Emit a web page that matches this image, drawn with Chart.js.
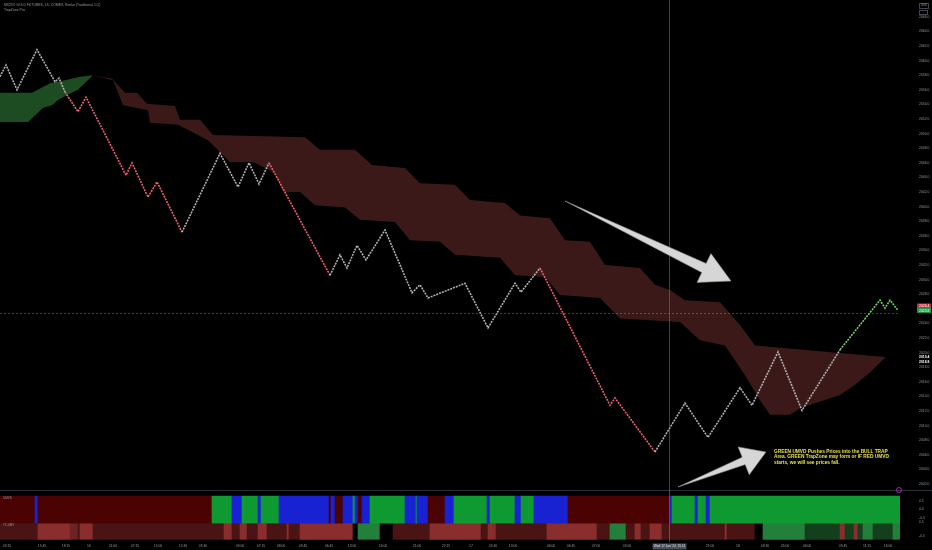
<!DOCTYPE html>
<html>
<head>
<meta charset="utf-8">
<script src="https://cdn.jsdelivr.net/npm/chart.js@4.4.1/dist/chart.umd.min.js"></script>
<style>
body{margin:0;background:#000;width:932px;height:550px;overflow:hidden;position:relative;font-family:"Liberation Sans",Arial,sans-serif}
canvas{position:absolute;left:0}
#main{top:0}
#strip{top:490px}
.t{position:absolute;color:#9598a1;font-size:3.4px;white-space:nowrap;line-height:4px}
.note{position:absolute;left:774px;top:448.5px;color:#e8e04a;font-size:4.8px;font-weight:bold;line-height:5.6px;white-space:nowrap}
</style>
</head>
<body>
<canvas id="main" width="932" height="490"></canvas>
<canvas id="strip" width="932" height="60"></canvas>
<div class="t" style="left:4px;top:3px">MICRO GOLD FUTURES, 1S, COMEX, Renko (Traditional, 0.2)</div>
<div class="t" style="left:4px;top:8px">TrapZone Pro</div>
<div class="t" style="left:919px;top:3px;border:1px solid #434651;padding:0 1px;font-size:2.8px;line-height:3.5px">USD</div>
<div class="t" style="left:919px;top:10px;border:1px solid #434651;width:7px;height:3px"></div>
<div class="t" style="left:3px;top:496px;font-size:3px">UMVD</div>
<div class="t" style="left:3px;top:523px;font-size:3px">TZ-UMV</div>
<div class="t" style="left:896px;top:487px;width:4px;height:4px;border:1px solid #9c27b0;border-radius:50%"></div>
<div class="note">GREEN UMVD Pushes Prices into the BULL TRAP<br>Area. GREEN TrapZone may form or IF RED UMVD<br>starts, we will see prices fall.</div>
<script>
// renko swing points (brick index, price)
var priceX = [0,6,17,37,55,59,65,78,86,126,132,148,157,182,220,238,249,259,269,330,340,347,357,366,385,412,420,428,465,488,515,521,540,610,615,655,685,708,740,752,778,802,840,880,885,890,898];
var priceY = [2057.8,2059.4,2056.0,2061.5,2057.1,2057.6,2055.7,2053.0,2055.0,2044.3,2046.0,2041.3,2043.4,2036.5,2047.3,2042.7,2046.0,2043.1,2046.0,2030.6,2033.4,2031.6,2034.7,2032.7,2036.8,2028.2,2029.3,2027.5,2029.5,2023.4,2029.5,2028.3,2031.6,2012.8,2013.8,2006.4,2013.1,2008.4,2015.2,2012.8,2020.1,2012.1,2020.4,2027.2,2026.1,2027.2,2025.8];
// colour of each leg: g gray, r red, l green
var priceTrend = ['g','g','g','g','g','g','r','r','r','r','r','r','r','g','g','g','g','g','r','g','g','g','g','g','g','g','g','g','g','g','g','g','r','r','r','g','g','g','g','g','g','g','l','l','l','l'];

// bull trap zone (green)
var greenUpX = [0,32,50,65,80,93];
var greenUpY = [2055.6,2055.6,2056.9,2057.3,2057.8,2058.0];
var greenLoX = [0,28,43,52,58,67,78,93];
var greenLoY = [2051.6,2051.6,2053.5,2053.9,2054.6,2055.3,2056.0,2058.0];

// bear trap zone (red)
var redUpX = [93,112,125,137,147,175,180,200,213,305,320,355,372,405,420,455,470,505,520,550,565,590,605,640,655,670,685,720,740,755,885];
var redUpY = [2058.0,2057.5,2055.6,2055.6,2054.1,2053.8,2051.9,2051.9,2049.8,2049.5,2047.8,2047.8,2045.7,2045.3,2043.2,2043.0,2040.9,2040.5,2038.8,2038.4,2035.4,2035.2,2032.0,2031.6,2029.3,2028.6,2027.2,2026.9,2023.8,2021.0,2019.4];
var redLoX = [93,113,123,148,150,178,208,230,253,275,283,300,315,345,360,395,410,440,455,500,515,545,560,600,620,680,700,725,745,760,770,790,800,840,855,870,885];
var redLoY = [2058.0,2057.3,2053.9,2053.2,2051.5,2051.2,2049.1,2046.1,2046.1,2044.6,2042.0,2042.0,2040.2,2039.9,2038.2,2037.9,2035.4,2035.2,2033.4,2033.0,2030.6,2030.4,2027.9,2027.5,2024.7,2024.2,2021.7,2021.0,2016.9,2013.5,2011.5,2011.5,2012.4,2014.2,2015.6,2017.3,2019.3];

var priceTicks = [2066,2064,2062,2060,2058,2056,2054,2052,2050,2048,2046,2044,2042,2040,2038,2036,2034,2032,2030,2028,2026,2024,2022,2020,2018,2016,2014,2012,2010,2008,2006,2004,2002];
var lastPrice = 2025.8;
var prevTag = 2026.4;
var zoneTags = [2019.4, 2018.8];
var crossX = 669;
var crossPrice = 2025.4;

// UMVD state strip: r red, g green, b blue
var umvdBreaks = [0,35,38,212,232,242,258,261,279,329,331,335,343,353,355,358,362,370,405,416,417,428,445,454,487,490,515,521,534,568,670,672,695,698,706,710,900];
var umvdState = ['r','b','r','g','b','g','b','g','b','r','b','r','b','g','b','r','b','g','b','g','b','r','b','g','b','g','b','g','b','r','b','g','b','g','b','g'];
// TZ strip: d dark red, R red, m mid red, k none, G green, D dark green
var tzBreaks = [0,38,70,78,80,93,224,232,240,247,258,267,287,289,300,353,358,380,393,430,481,488,496,547,597,610,626,635,641,650,662,725,727,755,763,805,840,845,854,858,863,873,893,900];
var tzState = ['d','R','m','d','R','d','R','d','R','d','R','d','R','d','R','k','G','k','d','R','d','R','d','R','d','G','d','R','d','R','d','R','d','k','G','D','R','D','R','D','G','D','G'];

var timeTickX = [7,42,66,89,113,135,158,183,203,240,261,281,303,329,352,383,417,446,471,493,513,551,571,596,627,710,738,765,785,807,843,867,888];
var timeTickText = ['03:15','15:45','18:15','16','11:00','07:15','15:00','15:30','05:30','09:00','07:15','08:00','09:45','06:45','13:00','16:00','21:00','22:15','17','05:30','13:00','06:00','06:45','07:00','05:00','21:00','18','03:30','05:00','06:00','09:45','11:15','16:00'];
var stripTickPos = [45,35,24,19,2];
var stripTickText = ['0.5','0.0','-0.5','0.5','-0.5'];

var legColor = {g:'#b0b0b0', r:'#ee5f6e', l:'#72cf6a'};
var umvdColor = {r:'#4a0202', g:'#0e9a30', b:'#1822d2'};
var tzColor = {d:'#4a1414', R:'#8a2d2d', m:'#6e2222', k:'#000000', G:'#23803a', D:'#143f1c'};

function pts(xs, ys) { return xs.map(function (x, i) { return {x: x, y: ys[i]}; }); }

var tickFont = {family: 'Liberation Sans', size: 3.4};
var noGrid = {display: false, drawTicks: false};

// drop the half-label padding chart.js adds at the ends of an axis
function noPad(s) { s.paddingTop = 0; s.paddingBottom = 0; s.paddingLeft = 0; s.paddingRight = 0; }

function arrowPts(tx, ty, hx, hy, headLen, headHalf, shaftHalf) {
    var dx = hx - tx, dy = hy - ty, L = Math.hypot(dx, dy);
    var ux = dx / L, uy = dy / L, nx = -uy, ny = ux;
    var bx = hx - ux * headLen, by = hy - uy * headLen;
    return [[tx, ty], [bx + nx * shaftHalf, by + ny * shaftHalf], [bx + nx * headHalf, by + ny * headHalf], [hx, hy],
        [bx - nx * headHalf, by - ny * headHalf], [bx - nx * shaftHalf, by - ny * shaftHalf]];
}
function drawArrow(ctx, p) {
    ctx.beginPath();
    p.forEach(function (q, i) { if (i) ctx.lineTo(q[0], q[1]); else ctx.moveTo(q[0], q[1]); });
    ctx.closePath();
    ctx.fillStyle = '#d6d6d6';
    ctx.fill();
    ctx.strokeStyle = '#8c8c8c';
    ctx.lineWidth = 0.6;
    ctx.stroke();
}
function tag(ctx, y, bg, txt, bold) {
    if (bg) { ctx.fillStyle = bg; ctx.fillRect(917, y - 2.5, 14, 5); }
    ctx.fillStyle = '#ffffff';
    ctx.font = (bold ? 'bold ' : '') + '3.4px Liberation Sans';
    ctx.textBaseline = 'middle';
    ctx.fillText(txt, 919, y + 0.3);
}

var mainDecor = {
    id: 'mainDecor',
    afterDraw: function (chart) {
        var ctx = chart.ctx, xs = chart.scales.x, ys = chart.scales.y, a = chart.chartArea;
        ctx.save();
        ctx.strokeStyle = 'rgba(140,140,150,0.45)';
        ctx.lineWidth = 1;
        var cx = Math.round(xs.getPixelForValue(crossX)) + 0.5;
        ctx.beginPath(); ctx.moveTo(cx, 0); ctx.lineTo(cx, 490); ctx.stroke();
        var cy = Math.round(ys.getPixelForValue(crossPrice)) + 0.5;
        ctx.setLineDash([2, 2]);
        ctx.beginPath(); ctx.moveTo(a.left, cy); ctx.lineTo(a.right, cy); ctx.stroke();
        ctx.setLineDash([]);
        drawArrow(ctx, arrowPts(565, 201, 731, 281, 30, 16, 5));
        drawArrow(ctx, arrowPts(678, 487, 766, 452, 24, 15, 4));
        tag(ctx, ys.getPixelForValue(prevTag), '#c8323f', prevTag.toFixed(1), false);
        tag(ctx, ys.getPixelForValue(lastPrice), '#1f9e4a', lastPrice.toFixed(1), false);
        tag(ctx, ys.getPixelForValue(zoneTags[0]), null, zoneTags[0].toFixed(1), true);
        tag(ctx, ys.getPixelForValue(zoneTags[1]), null, zoneTags[1].toFixed(1), true);
        ctx.restore();
    }
};

new Chart(document.getElementById('main'), {
    type: 'line',
    data: {
        datasets: [{
            label: 'Renko',
            data: pts(priceX, priceY),
            borderWidth: 1.6,
            borderDash: [2, 1],
            pointRadius: 0,
            order: 0,
            segment: {
                borderColor: function (c) { return legColor[priceTrend[c.p0DataIndex]]; }
            }
        }, {
            label: 'bull up',
            data: pts(greenUpX, greenUpY),
            borderWidth: 0, pointRadius: 0, fill: false, order: 1
        }, {
            label: 'bull low',
            data: pts(greenLoX, greenLoY),
            borderWidth: 0, pointRadius: 0, fill: 1, backgroundColor: '#1d4b22', order: 1
        }, {
            label: 'bear up',
            data: pts(redUpX, redUpY),
            borderWidth: 0, pointRadius: 0, fill: false, order: 1
        }, {
            label: 'bear low',
            data: pts(redLoX, redLoY),
            borderWidth: 0, pointRadius: 0, fill: 3, backgroundColor: '#3b1919', order: 1
        }]
    },
    options: {
        responsive: false,
        animation: false,
        devicePixelRatio: 1,
        layout: {padding: 0},
        plugins: {legend: {display: false}, tooltip: {enabled: false}},
        scales: {
            x: {type: 'linear', min: 0, max: 900, display: false},
            y: {
                position: 'right',
                min: 2001.2, max: 2068.3,
                grid: noGrid,
                border: {display: false},
                afterFit: function (s) { s.width = 32; noPad(s); },
                afterBuildTicks: function (s) { s.ticks = priceTicks.map(function (v) { return {value: v}; }); },
                ticks: {
                    font: tickFont, color: '#9598a1', padding: 19,
                    callback: function (v) { return Number(v).toFixed(1); }
                }
            }
        }
    },
    plugins: [mainDecor]
});

var stripDecor = {
    id: 'stripDecor',
    afterDraw: function (chart) {
        var ctx = chart.ctx, xs = chart.scales.x, a = chart.chartArea;
        ctx.save();
        ctx.strokeStyle = '#2a2e39';
        ctx.lineWidth = 1;
        ctx.beginPath(); ctx.moveTo(0, 0.5); ctx.lineTo(932, 0.5); ctx.stroke();
        ctx.strokeStyle = 'rgba(140,140,150,0.5)';
        var cx = Math.round(xs.getPixelForValue(crossX)) + 0.5;
        ctx.beginPath(); ctx.moveTo(cx, 0); ctx.lineTo(cx, a.bottom); ctx.stroke();
        ctx.fillStyle = '#4a4e59';
        ctx.fillRect(cx - 17, a.bottom + 1.5, 34, 6);
        ctx.fillStyle = '#e0e3eb';
        ctx.font = '3.2px Liberation Sans';
        ctx.textAlign = 'center';
        ctx.textBaseline = 'middle';
        ctx.fillText("Wed 17 Jan '24  15:11", cx, a.bottom + 4.6);
        ctx.restore();
    }
};

new Chart(document.getElementById('strip'), {
    type: 'bar',
    data: {
        datasets: [{
            label: 'UMVD',
            data: umvdState.map(function (s, i) { return {x: [umvdBreaks[i], umvdBreaks[i + 1]], y: 34.5}; }),
            backgroundColor: umvdState.map(function (s) { return umvdColor[s]; }),
            barThickness: 27
        }, {
            label: 'TZ',
            data: tzState.map(function (s, i) { return {x: [tzBreaks[i], tzBreaks[i + 1]], y: 10.5}; }),
            backgroundColor: tzState.map(function (s) { return tzColor[s]; }),
            barThickness: 21
        }]
    },
    options: {
        indexAxis: 'y',
        responsive: false,
        animation: false,
        devicePixelRatio: 1,
        grouped: false,
        layout: {padding: {top: 4, left: 0, right: 0, bottom: 0}},
        plugins: {legend: {display: false}, tooltip: {enabled: false}},
        scales: {
            x: {
                type: 'linear', min: 0, max: 900,
                grid: noGrid,
                border: {display: false},
                afterFit: function (s) { s.height = 8; noPad(s); },
                afterBuildTicks: function (s) { s.ticks = timeTickX.map(function (v) { return {value: v}; }); },
                ticks: {
                    font: tickFont, color: '#9598a1', padding: 2, autoSkip: false, maxRotation: 0,
                    callback: function (v, i) { return timeTickText[i]; }
                }
            },
            y: {
                type: 'linear', position: 'right', min: 0, max: 48,
                grid: noGrid,
                border: {display: false},
                afterFit: function (s) { s.width = 32; noPad(s); },
                afterBuildTicks: function (s) { s.ticks = stripTickPos.map(function (v) { return {value: v}; }); },
                ticks: {
                    font: tickFont, color: '#9598a1', padding: 19,
                    callback: function (v, i) { return stripTickText[i]; }
                }
            }
        }
    },
    plugins: [stripDecor]
});
</script>
</body>
</html>
